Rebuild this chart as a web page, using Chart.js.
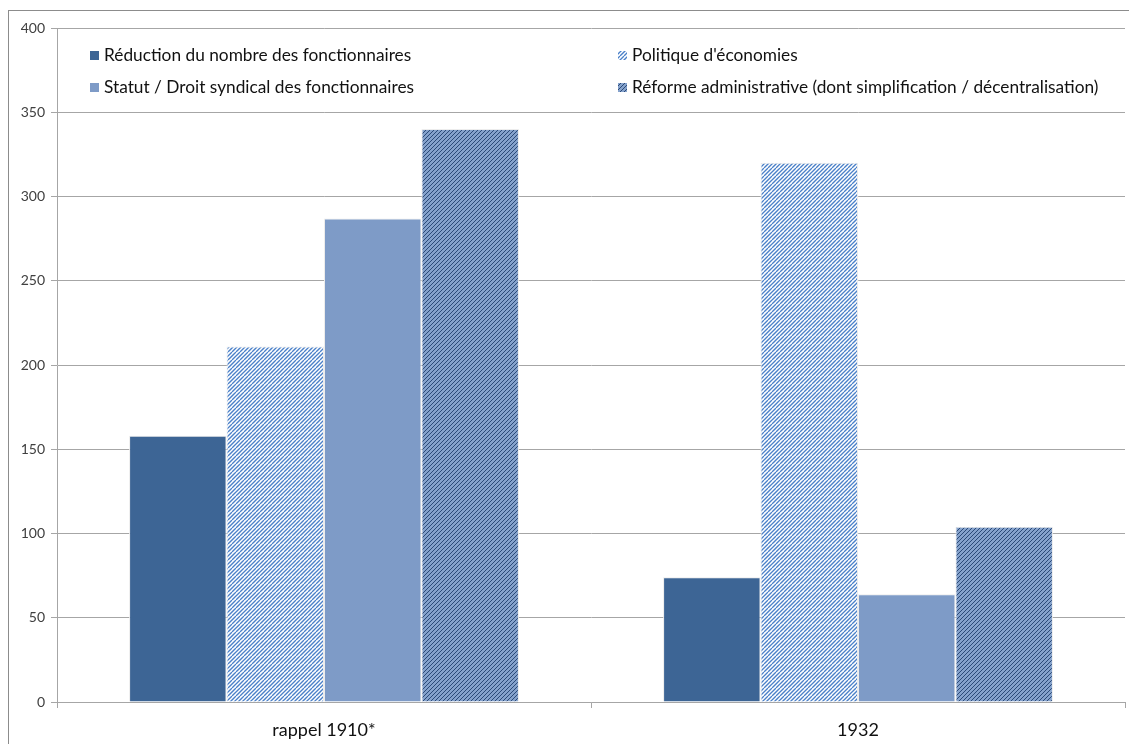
<!DOCTYPE html>
<html>
<head>
<meta charset="utf-8">
<script src="https://cdn.jsdelivr.net/npm/chart.js@4.4.0/dist/chart.umd.min.js"></script>
<style>
  html, body { margin: 0; padding: 0; background: #fff; }
  #wrap { width: 1129px; height: 744px; position: relative; }
</style>
</head>
<body>
<div id="wrap"><canvas id="chart"></canvas></div>
<script>
// --- données ---
const categories = ['rappel 1910*', '1932'];
const seriesLabels = [
    'Réduction du nombre des fonctionnaires',
    "Politique d'économies",
    'Statut / Droit syndical des fonctionnaires',
    'Réforme administrative (dont simplification / décentralisation)'
];
const reduction = [158, 74];
const economies = [211, 320];
const statut = [287, 64];
const reforme = [340, 104];
const yTicks = [0, 50, 100, 150, 200, 250, 300, 350, 400];

// --- hachures ---
function hachure(fond, trait, epaisseur) {
    const tuile = document.createElement('canvas');
    tuile.width = 8;
    tuile.height = 8;
    const c = tuile.getContext('2d');
    c.fillStyle = fond;
    c.fillRect(0, 0, 8, 8);
    c.strokeStyle = trait;
    c.lineWidth = epaisseur;
    for (let k = -8; k <= 16; k += 4) {
        c.beginPath();
        c.moveTo(k, 8);
        c.lineTo(k + 8, 0);
        c.stroke();
    }
    return c.createPattern(tuile, 'repeat');
}

const couleurs = [
    '#3d6595',
    hachure('#ffffff', '#4a80c8', 1.3),
    '#7e9bc7',
    hachure('#85a2cc', '#2b4a78', 1.0)
];

// --- cadre + légende dans la zone du graphique ---
const cadreEtLegende = {
    id: 'cadreEtLegende',
    beforeDraw(chart) {
        const ctx = chart.ctx;
        ctx.save();
        ctx.fillStyle = '#ffffff';
        ctx.fillRect(0, 0, chart.width, chart.height);
        ctx.strokeStyle = '#8c8c8c';
        ctx.lineWidth = 1;
        ctx.strokeRect(8.5, 10.5, chart.width + 20, chart.height + 20);
        ctx.restore();
    },
    afterDraw(chart) {
        const ctx = chart.ctx;
        const places = [[90, 55], [618, 55], [90, 87], [618, 87]];
        ctx.save();
        ctx.font = '17.3px Lato';
        ctx.textBaseline = 'middle';
        chart.data.datasets.forEach((ds, i) => {
            const [x, y] = places[i];
            ctx.fillStyle = ds.backgroundColor;
            ctx.fillRect(x, y - 4, 9, 9);
            ctx.fillStyle = '#111111';
            ctx.fillText(ds.label, x + 14, y);
        });
        ctx.restore();
    }
};

const series = [reduction, economies, statut, reforme];

const ctx = document.getElementById('chart').getContext('2d');
const chart = new Chart(ctx, {
    type: 'bar',
    data: {
        labels: categories,
        datasets: series.map((valeurs, i) => ({
            label: seriesLabels[i],
            data: valeurs,
            backgroundColor: couleurs[i],
            borderColor: '#ececec',
            borderWidth: 1,
            categoryPercentage: 0.73,
            barPercentage: 1.0
        }))
    },
    options: {
        responsive: true,
        maintainAspectRatio: false,
        animation: false,
        layout: { padding: { left: 0, right: 4, top: 28, bottom: 0 } },
        scales: {
            y: {
                min: 0,
                max: 400,
                afterBuildTicks: (scale) => { scale.ticks = yTicks.map(v => ({ value: v })); },
                afterFit: (scale) => { scale.width = 57; },
                ticks: {
                    color: '#404040',
                    font: { family: 'Lato', size: 14 },
                    padding: 6
                },
                grid: {
                    color: '#a6a6a6',
                    tickLength: 6
                },
                border: { color: '#a6a6a6' }
            },
            x: {
                afterFit: (scale) => { scale.height = 42; },
                ticks: {
                    color: '#111111',
                    font: { family: 'Lato', size: 18 },
                    padding: 11
                },
                grid: {
                    offset: true,
                    drawOnChartArea: false,
                    color: '#a6a6a6',
                    tickLength: 6
                },
                border: { color: '#a6a6a6' }
            }
        },
        plugins: {
            legend: { display: false },
            tooltip: { enabled: false }
        }
    },
    plugins: [cadreEtLegende]
});
</script>
</body>
</html>
